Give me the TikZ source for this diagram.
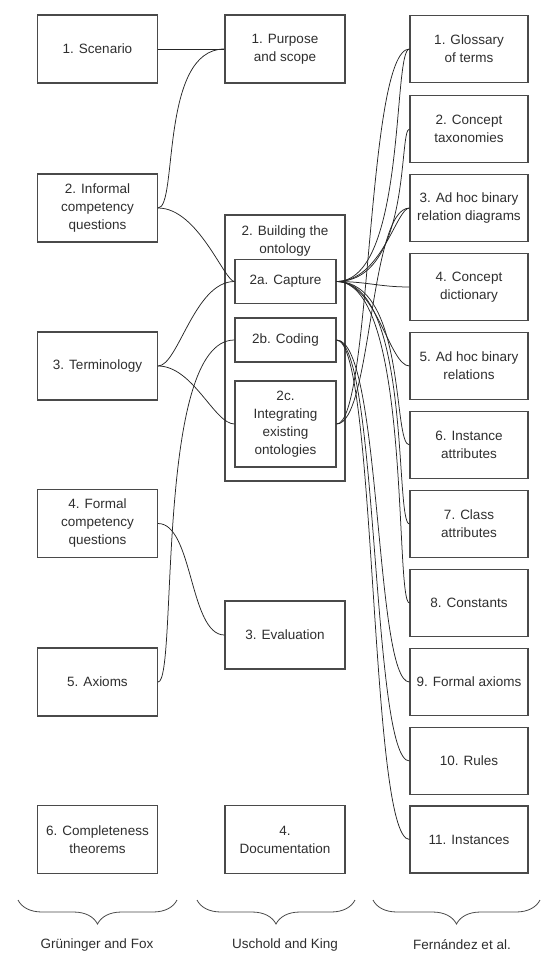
\documentclass[tikz,border=0pt]{standalone}
\usepackage{fontspec}
\setmainfont{Liberation Sans}
\usepackage{xcolor}
\usepackage{tikz}
\usetikzlibrary{decorations.pathreplacing}

\definecolor{boxgray}{HTML}{4A4A4A}
\definecolor{txtgray}{HTML}{2E2E2E}

\begin{document}
\begin{tikzpicture}[x=1pt, y=-1pt,
  cell/.style={draw=boxgray, line width=1.1pt, minimum width=120pt, minimum height=68pt,
    align=center, inner sep=2pt, text=txtgray, font=\fontsize{13.5}{18}\selectfont},
  grun/.style={cell},
  usch/.style={cell},
  fern/.style={cell, minimum width=118pt, minimum height=67pt},
  inner/.style={cell, minimum width=101pt, minimum height=44pt},
  link/.style={draw=black!85, line width=0.75pt},
  swing/.style 2 args={out=0, in=180, out distance=#1, in distance=#2},
  curly/.style={draw=boxgray, line width=0.8pt, decorate,
    decoration={brace, mirror, amplitude=24pt}},
  caption/.style={align=center, text=txtgray, font=\fontsize{13.5}{18}\selectfont}
]
\useasboundingbox (0,0) rectangle (543,956);

% Gruninger and Fox
\node[grun] (scen) at (97.5,49) {1. Scenario};
\node[grun] (inf)  at (97.5,208) {2. Informal\\competency\\questions};
\node[grun] (term) at (97.5,366) {3. Terminology};
\node[grun] (form) at (97.5,523.5) {4. Formal\\competency\\questions};
\node[grun] (axi)  at (97.5,682) {5. Axioms};
\node[grun] (comp) at (97.5,839.5) {6. Completeness\\theorems};

% Uschold and King
\node[usch] (pur) at (285,49) {1. Purpose\\and scope};
\node[usch, minimum height=266pt] (bld) at (285,348) {};
\node[caption] (bldtxt) at (285,241) {2. Building the\\ontology};
\node[inner] (cap) at (285.5,281.5) {2a. Capture};
\node[inner] (cod) at (285.5,340) {2b. Coding};
\node[inner, minimum height=86pt] (integ) at (285.5,424) {2c.\\Integrating\\existing\\ontologies};
\node[usch] (eval) at (285,635) {3. Evaluation};
\node[usch] (doc)  at (285,839.5) {4.\\Documentation};

% Fernandez et al.
\node[fern] (glos) at (469,49) {1. Glossary\\of terms};
\node[fern] (tax)  at (469,129) {2. Concept\\taxonomies};
\node[fern] (bdia) at (469,208) {3. Ad hoc binary\\relation diagrams};
\node[fern] (dict) at (469,287) {4. Concept\\dictionary};
\node[fern] (brel) at (469,366) {5. Ad hoc binary\\relations};
\node[fern] (inst) at (469,445) {6. Instance\\attributes};
\node[fern] (cls)  at (469,524) {7. Class\\attributes};
\node[fern] (cons) at (469,603) {8. Constants};
\node[fern] (fax)  at (469,682) {9. Formal axioms};
\node[fern] (rul)  at (469,761) {10. Rules};
\node[fern] (ins)  at (469,839.5) {11. Instances};

% left links
\draw[link] (scen.east) -- (pur.west);
\draw[link] (inf.east) to[swing={20pt}{65pt}] (pur.west);
\draw[link] (inf.east) to[swing={40pt}{10pt}] (cap.west);
\draw[link] (term.east) to[swing={20pt}{40pt}] (cap.west);
\draw[link] (term.east) to[swing={35pt}{20pt}] (integ.west);
\draw[link] (form.east) to[swing={35pt}{35pt}] (eval.west);
\draw[link] (axi.east) to[swing={20pt}{80pt}] (cod.west);

% right links from capture
\draw[link] (cap.east) to[swing={70pt}{17pt}] (glos.west);
\draw[link] (cap.east) to[swing={75pt}{11pt}] (tax.west);
\draw[link] (cap.east) to[swing={45pt}{13pt}] (bdia.west);
\draw[link] (cap.east) to[swing={30pt}{30pt}] (dict.west);
\draw[link] (cap.east) to[swing={40pt}{20pt}] (brel.west);
\draw[link] (cap.east) to[swing={70pt}{17pt}] (inst.west);
\draw[link] (cap.east) to[swing={75pt}{15pt}] (cls.west);
\draw[link] (cap.east) to[swing={75pt}{15pt}] (cons.west);

% right links from coding and integrating
\draw[link] (cod.east) to[swing={45pt}{35pt}] (fax.west);
\draw[link] (cod.east) to[swing={42pt}{38pt}] (rul.west);
\draw[link] (cod.east) to[swing={40pt}{40pt}] (ins.west);
\draw[link] (integ.east) to[swing={35pt}{43pt}] (glos.west);
\draw[link] (integ.east) to[swing={35pt}{40pt}] (bdia.west);

% braces and sources
\draw[curly] (18,900) -- (177,900);
\draw[curly] (197,900) -- (355,900);
\draw[curly] (373,900) -- (540,900);
\node[caption] (gf) at (97,945) {Grüninger and Fox};
\node[caption] (uk) at (285,945) {Uschold and King};
\node[caption] (fe) at (462,945) {Fernández et al.};

\end{tikzpicture}
\end{document}
